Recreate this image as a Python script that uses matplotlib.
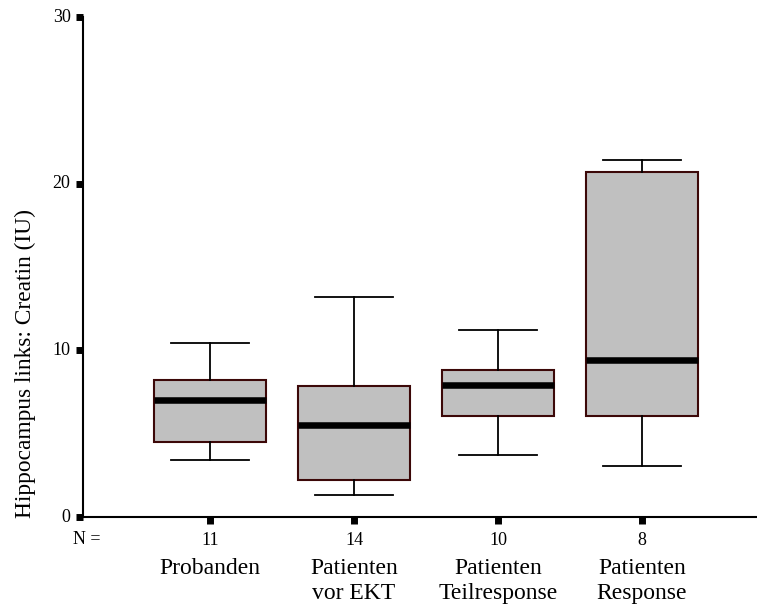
import numpy as np
from matplotlib import pyplot as plt
import matplotlib.transforms as mtransforms

# group labels and sample sizes
groups = ["Probanden", "Patienten\nvor EKT", "Patienten\nTeilresponse", "Patienten\nResponse"]
n_values = [11, 14, 10, 8]

# box statistics
q1 = [4.5, 2.2, 6.05, 6.05]
medians = [7.0, 5.5, 7.9, 9.45]
q3 = [8.2, 7.85, 8.8, 20.7]
whisker_low = [3.45, 1.35, 3.75, 3.05]
whisker_high = [10.47, 13.2, 11.2, 21.45]

y_ticks = [0, 10, 20, 30]

plt.rcParams['font.family'] = ['Liberation Serif', 'DejaVu Serif']

fig = plt.figure(figsize=(7.57, 6.10), dpi=100)
ax = fig.add_axes([83/757, 1-517/610, 1-83/757, 500/610])

stats = []
for i in range(len(groups)):
	stats.append({
		"med": medians[i], "q1": q1[i], "q3": q3[i],
		"whislo": whisker_low[i], "whishi": whisker_high[i],
		"fliers": [], "label": str(n_values[i]),
	})

positions = np.arange(1, len(groups)+1)
ax.bxp(stats, positions=positions, widths=0.78, patch_artist=True, showfliers=False,
	boxprops=dict(facecolor='#c0c0c0', edgecolor='#3c0808', linewidth=1.5),
	medianprops=dict(color='black', linewidth=4.7, solid_capstyle='butt'),
	whiskerprops=dict(color='black', linewidth=1.3),
	capprops=dict(color='black', linewidth=1.3),
	capwidths=0.535)

ax.set_xlim(1-(210-83)/144, 4+(757-642)/144)
ax.set_ylim(0, 30)
ax.set_yticks(y_ticks)
ax.set_xticks(positions)
ax.set_xticklabels([str(n) for n in n_values])

for side in ["top", "right"]:
	ax.spines[side].set_visible(False)
for side in ["left", "bottom"]:
	ax.spines[side].set_linewidth(1.5)

ax.tick_params(axis='both', direction='out', length=5, width=5, labelsize=13, color='black')
ax.tick_params(axis='y', pad=4)
ax.tick_params(axis='x', pad=6)
for lbl in ax.get_yticklabels():
	lbl.set_verticalalignment('center')

# category names below the N row
trans = mtransforms.blended_transform_factory(ax.transData, ax.transAxes)
for pos, name in zip(positions, groups):
	ax.text(pos, -0.081, name, transform=trans, ha='center', va='top', fontsize=17, linespacing=1.3)
ax.text(0.146, -0.045, "N =", transform=trans, ha='center', va='center', fontsize=13)

ax.set_ylabel("Hippocampus links: Creatin (IU)", fontsize=16.8)
ax.yaxis.set_label_coords(-0.069, 0.308)

plt.savefig("out.png", dpi=100)
